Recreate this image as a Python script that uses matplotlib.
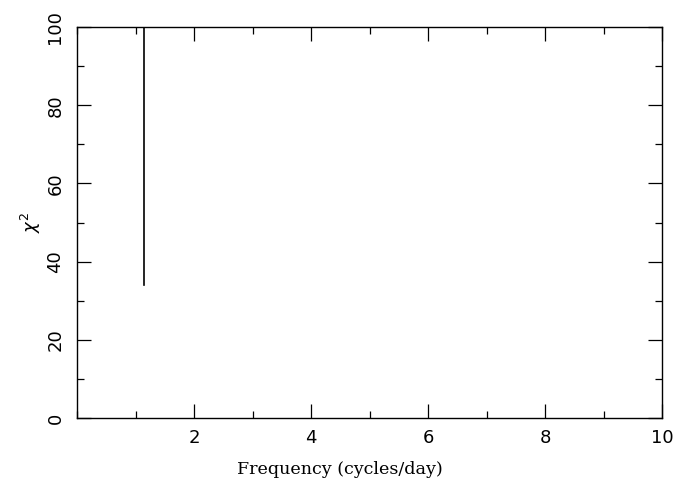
import matplotlib
matplotlib.use("Agg")
import matplotlib.pyplot as plt
from matplotlib.ticker import MultipleLocator

# Data
freq = [1.145, 1.145]
chi2 = [34.0, 100.0]

x_range = [0, 10]
y_range = [0, 100]
x_ticks = [2, 4, 6, 8, 10]
y_ticks = [0, 20, 40, 60, 80, 100]

fig = plt.figure(figsize=(6.75, 4.91), dpi=100)
ax = fig.add_axes([77/675, 1 - 418/491, (662 - 77)/675, (418 - 27)/491])

ax.plot(freq, chi2, color="black", lw=1.2)

ax.set_xlim(*x_range)
ax.set_ylim(*y_range)

ax.xaxis.set_minor_locator(MultipleLocator(1))
ax.yaxis.set_minor_locator(MultipleLocator(10))
ax.set_xticks(x_ticks)
ax.set_yticks(y_ticks)

ax.tick_params(which="both", direction="in", top=True, right=True, width=0.9)
ax.tick_params(which="major", length=10, labelsize=13)
ax.tick_params(axis="x", which="major", pad=8)
ax.tick_params(axis="y", which="major", pad=9)
ax.tick_params(which="minor", length=5)

for lbl in ax.get_yticklabels():
    lbl.set_rotation(90)
    lbl.set_va("center")

for sp in ax.spines.values():
    sp.set_linewidth(1.0)

xl = ax.set_xlabel("Frequency (cycles/day)", family="DejaVu Serif", fontsize=12.6)
xl.set_va("center")
ax.xaxis.set_label_coords(0.45, -(470 - 418) / 391)

yl = ax.set_ylabel(r"$\chi^2$", fontsize=13)
yl.set_va("center")
ax.yaxis.set_label_coords(-(77 - 31) / 585, 0.5)

fig.savefig("out.png", dpi=100)
